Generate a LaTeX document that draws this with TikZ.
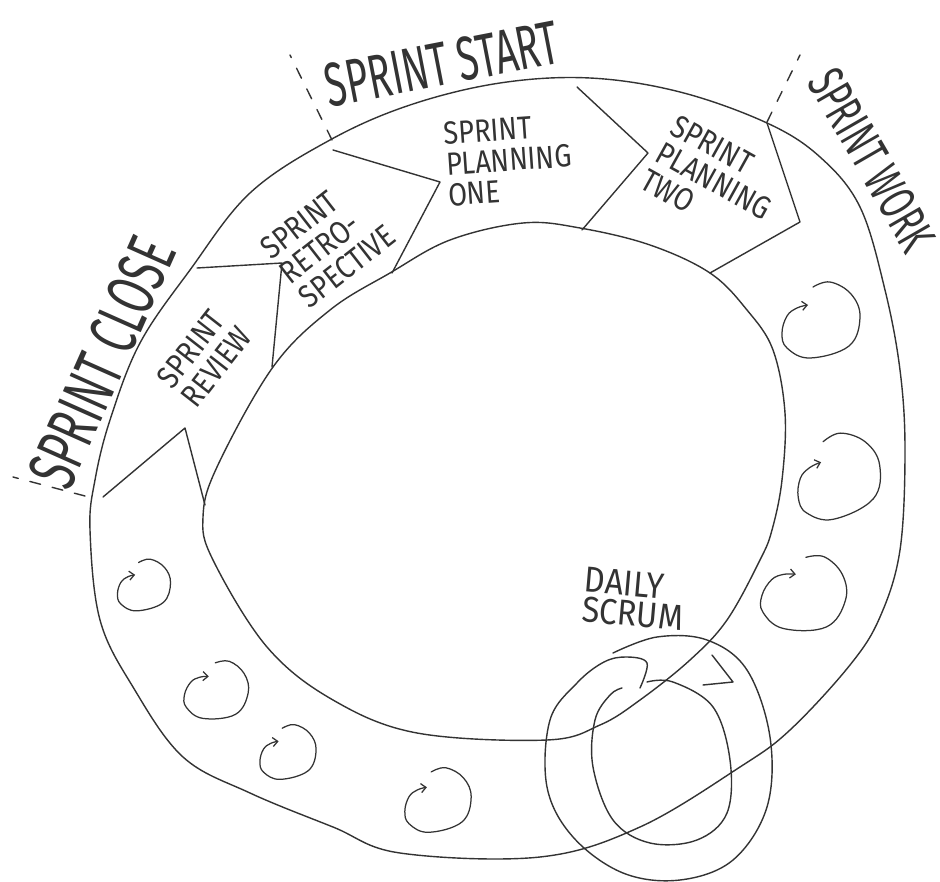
\documentclass[tikz,border=0pt]{standalone}
\usepackage{fontspec}
\IfFontExistsTF{FiraSans-Light.otf}{\setmainfont{FiraSans-Light.otf}}{\setmainfont{Fira Sans}}
\usetikzlibrary{arrows.meta}
\definecolor{pencil}{HTML}{333333}

\tikzset{
  swirl/.pic={
    \draw[swirlline, -{Straight Barb[length=5pt, width=9pt]}]
      plot[smooth, tension=0.65] coordinates {(-8,-33) (9,-38) (30,-26) (39,-3) (28,26)
        (-11,38) (-34,28) (-39,13) (-34,-4) (-24,-12) (-13,-15)};
  }
}

\begin{document}
\begin{tikzpicture}[x=1pt, y=-1pt,
  ink/.style={draw=pencil, line width=1.4pt, line cap=round, line join=round},
  sepline/.style={ink, dash pattern=on 11pt off 12pt},
  swirlline/.style={ink, line width=1.25pt},
  phase/.style={text=pencil, font=\fontsize{62}{62}\selectfont, xscale=0.62, inner sep=0pt},
  stagelbl/.style={text=pencil, font=\fontsize{32}{31}\selectfont, xscale=0.85,
                   align=left, inner sep=0pt}
]
\fill[white] (0,0) rectangle (940,882);
\useasboundingbox (0,0) rectangle (940,882);

%--- Ring ---
\draw[ink] plot[smooth cycle, tension=0.6] coordinates {
  (330,140) (410,105) (500,83) (590,78) (680,92) (767,123) (820,157) (860,207)
  (885,290) (900,370) (905,450) (900,550) (880,617) (850,665) (790,730) (740,767)
  (640,827) (540,857) (400,853) (333,827) (250,793) (183,757) (133,687) (100,620)
  (90,530) (95,480) (110,420) (140,343) (190,270) (250,193)};
\draw[ink] plot[smooth cycle, tension=0.6] coordinates {
  (390,273) (450,240) (523,223) (580,228) (650,245) (710,273) (747,310) (773,350)
  (785,413) (782,480) (772,530) (760,560) (727,620) (690,660) (640,700) (600,725)
  (547,740) (417,733) (333,700) (267,647) (213,560) (203,517) (217,467) (273,367)
  (330,310)};

%--- Chevrons between the stages ---
\draw[ink] (103,497) -- (185,428) -- (205,505);
\draw[ink] (197,268) -- (282,263) -- (272,367);
\draw[ink] (333,150) -- (440,182) -- (392,273);
\draw[ink] (577,87) -- (648,153) -- (582,230);
\draw[ink] (767,123) -- (800,222) -- (710,273);

%--- Phase borders ---
\draw[sepline] (332,140) -- (290,55);
\draw[sepline] (767,122) -- (800,55);
\draw[sepline] (85,496) -- (13,477);

%--- Phase labels ---
\node[rotate=11, phase] (start) at (442,64) {SPRINT START};
\node[rotate=-60, phase, font=\fontsize{52}{52}\selectfont] (work) at (872,160) {SPRINT WORK};
\node[rotate=66, phase, font=\fontsize{68}{68}\selectfont] (close) at (102,362) {SPRINT CLOSE};

%--- Stage labels ---
\node[rotate=52, stagelbl] (review) at (204,357) {SPRINT\\REVIEW};
\node[rotate=38, stagelbl] (retro) at (328,242) {SPRINT\\RETRO-\\SPECTIVE};
\node[rotate=4, stagelbl] (planone) at (509,160) {SPRINT\\PLANNING\\ONE};
\node[rotate=-29, stagelbl] (plantwo) at (714,181) {SPRINT\\PLANNING\\TWO};
\node[rotate=-5, stagelbl, font=\fontsize{36}{30}\selectfont, xscale=1.05] (daily) at (634,599) {DAILY\\SCRUM};

%--- Daily work swirls ---
\foreach \cx/\cy/\s/\r in {821/320/1/0, 838/476/1.1/10, 805/593/1.05/-15,
    144/585/0.68/0, 217/690/0.8/-10, 288/752/0.72/0, 438/800/0.85/0}
  \pic[scale=\s, rotate=\r] at (\cx,\cy) {swirl};

%--- Daily scrum loop ---
\draw[ink] plot[smooth, tension=0.6] coordinates {
  (613,653) (657,637) (707,640) (747,670) (770,737) (767,807) (733,860) (680,880)
  (623,873) (573,837) (547,787) (550,720) (577,683) (604,662) (627,657) (647,663)
  (640,688)};
\draw[ink] plot[smooth, tension=0.6] coordinates {
  (647,682) (673,682) (713,707) (730,760) (727,813) (697,840) (650,843) (613,820)
  (593,767) (595,720) (610,695) (622,688)};
\draw[ink] (712,655) -- (733,682) -- (703,685);

\end{tikzpicture}
\end{document}
